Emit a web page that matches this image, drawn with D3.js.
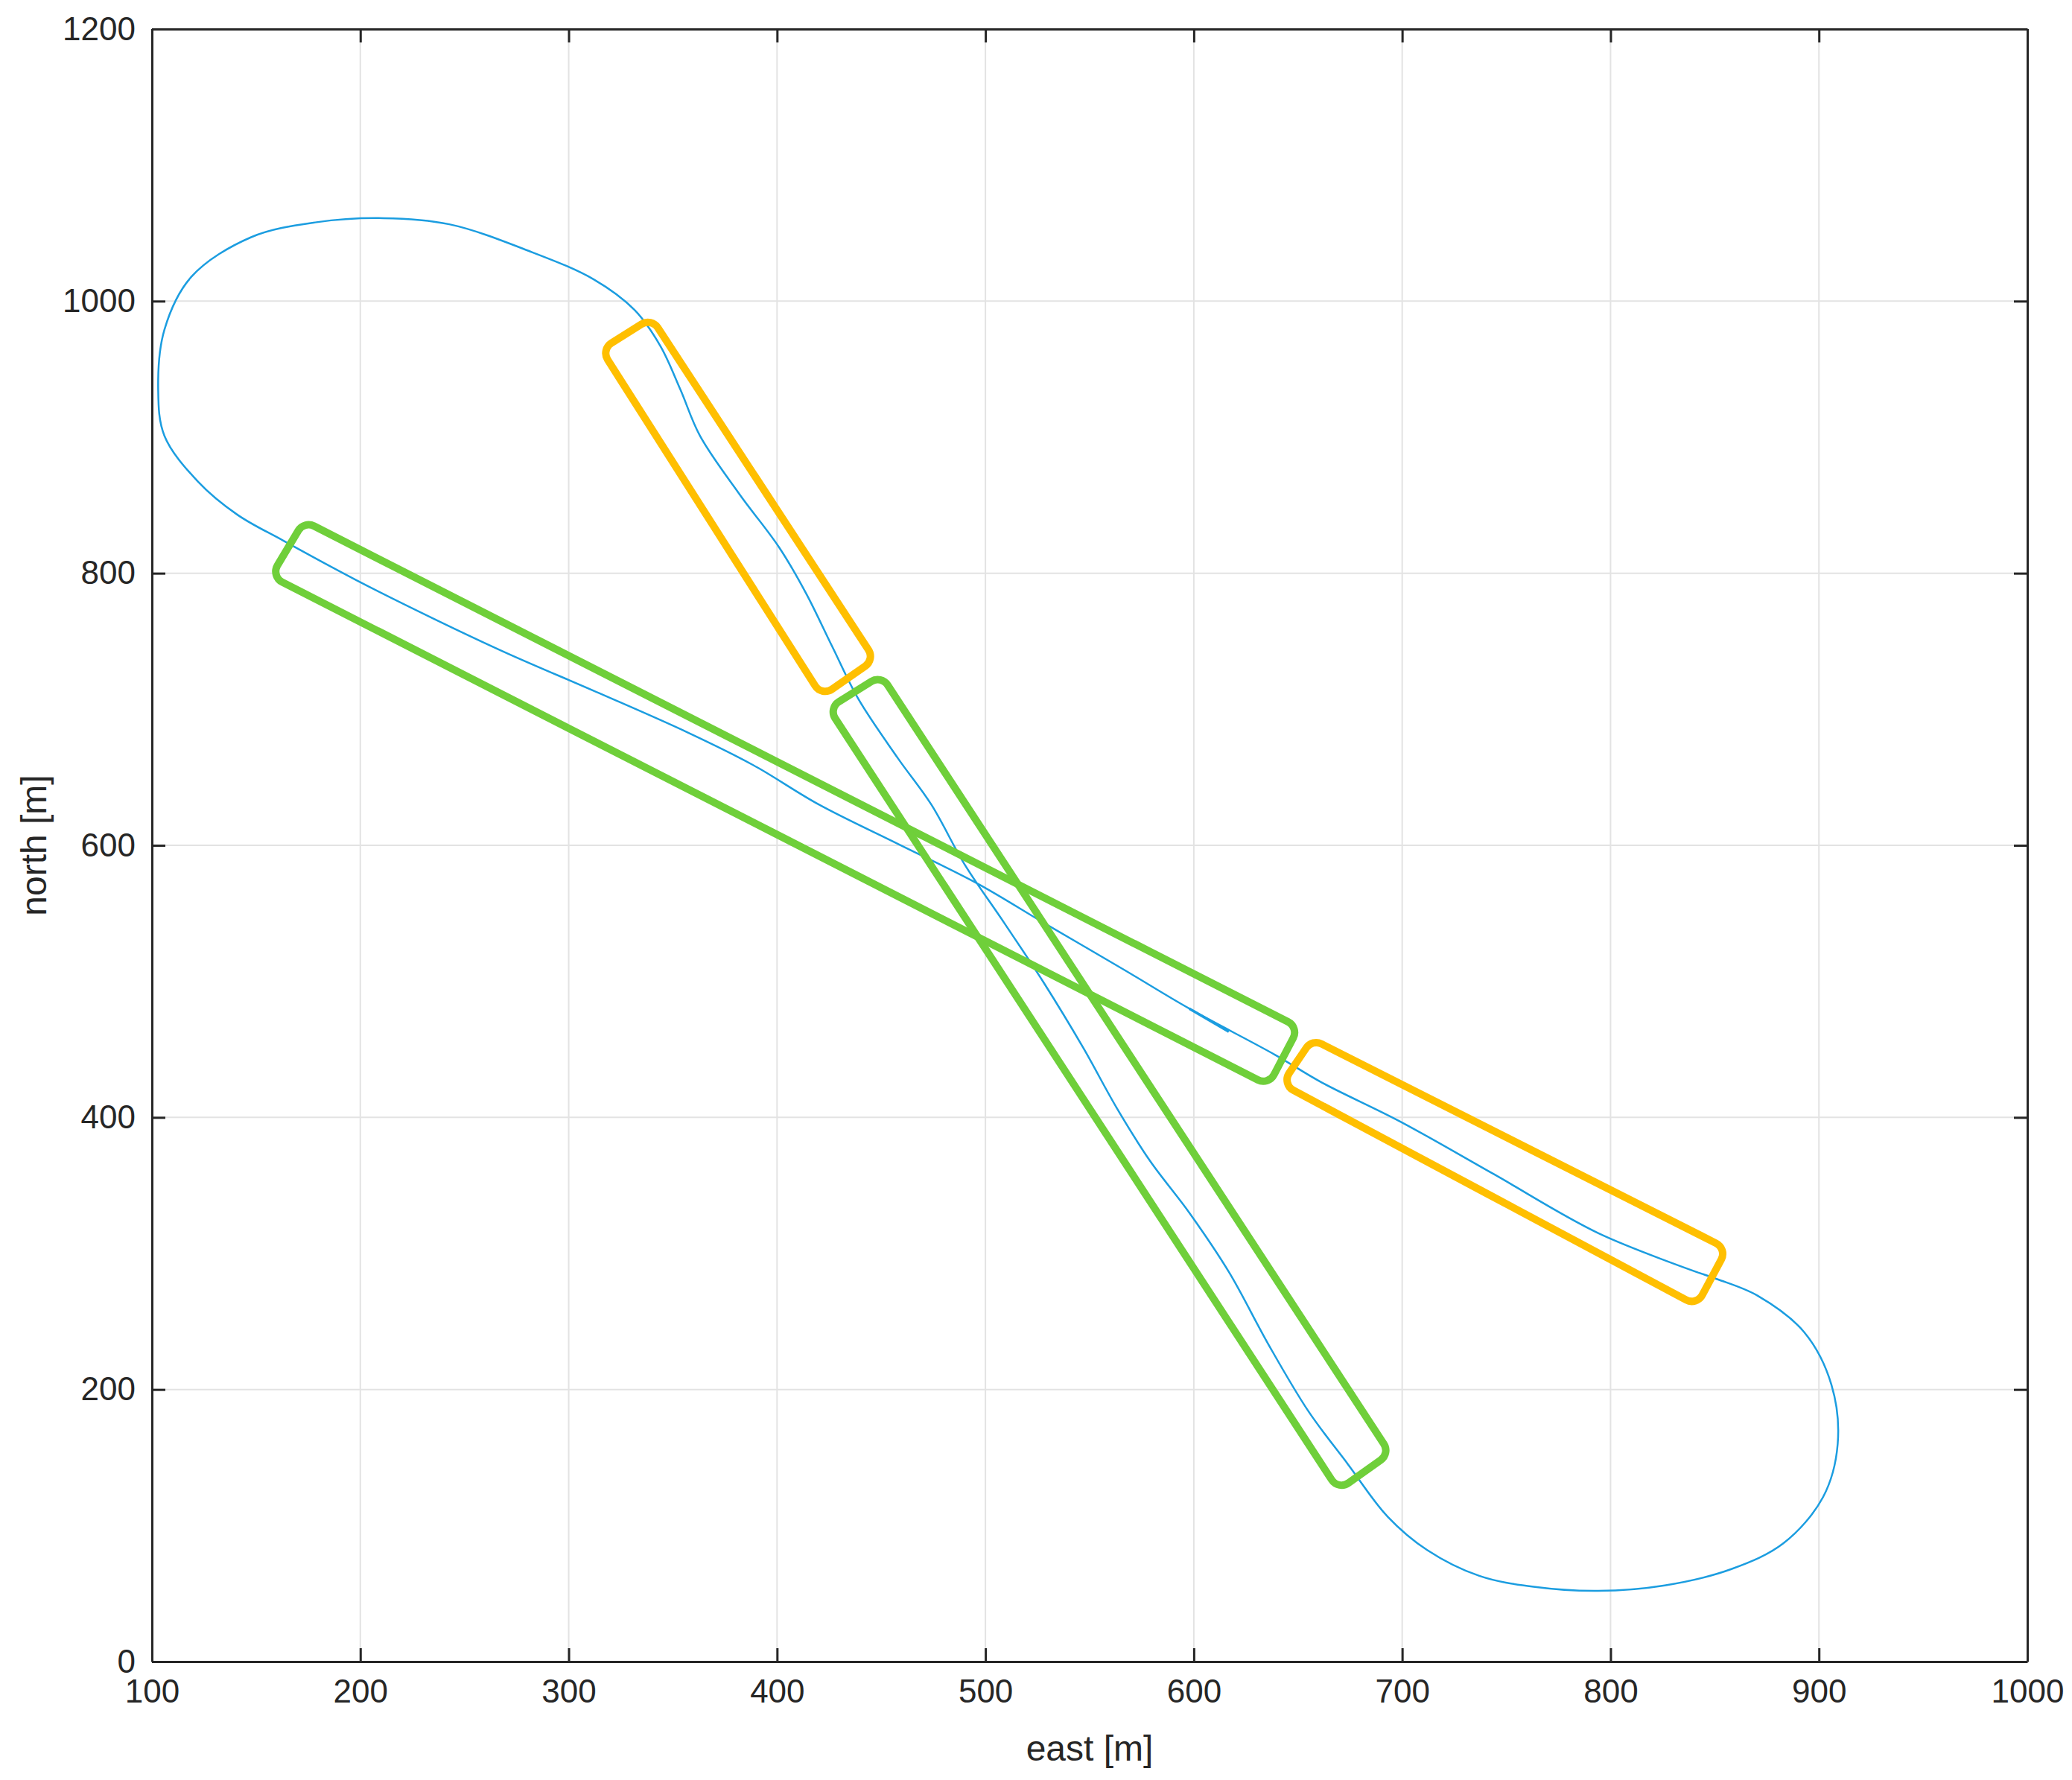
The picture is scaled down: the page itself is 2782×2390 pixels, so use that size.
<!DOCTYPE html>
<html>
<head>
<meta charset="utf-8">
<script src="https://cdn.jsdelivr.net/npm/d3@7"></script>
<style>
  body { margin: 0; background: #fff; }
  text { font-family: "Liberation Sans", Arial, sans-serif; fill: #262626; }
</style>
</head>
<body>
<div id="chart"></div>
<script>
// data (east, north) in metres
var trajectory = [
  [842,286],[794,315],[743.6,358.6],[699,397],[661,426],[639,446],[597.8,480],[566,509],
  [528,543],[496,572],[458,601],[420,630],[388.5,659],[357,683],[314.4,712],[270,741.5],
  [236,766],[198,795],[163,824],[141,843],[122,867.5],[106,901],[103,935],[106,979],
  [119,1018],[147.6,1047],[179,1058],[211,1061],[242.7,1056.5],[280.7,1037],[312,1016],
  [331.6,993.5],[344,967],[353.6,935],[363,901],[382,858],[401,819],[414,785],[426.5,746],
  [439,707.6],[458,664],[474,630],[490,586],[509,543],[528,499],[547,451],[563,407],
  [579,368],[598,329.6],[617,286],[636,232.6],[655,184],[674,145],[693,106.6],[712,82],
  [737,63],[763,55],[794,52],[826,56],[858,68],[883,87],[902,121],[909,160],[906,203.5],
  [893,242],[870.5,269],[851.4,281],[842,286]
];
var stub = [[597.8,480],[616.8,463]];

var orangeBoxes = [
  [[315.6,964.4],[339.7,987.7],[446.9,736.6],[421.5,709.5]],
  [[642.2,424.5],[656.8,457.5],[855.9,303.4],[841.3,261.7]]
];
var greenBoxes = [
  [[157.1,797.7],[173,838.4],[650.4,466.2],[635.8,423.6]],
  [[424.7,700.8],[450,725],[694.2,153],[669.4,126]]
];

var xTicks = [100,200,300,400,500,600,700,800,900,1000];
var yTicks = [0,200,400,600,800,1000,1200];

var svgWidth = 2782, svgHeight = 2390;
var margin = {top: 39, right: 60, bottom: 159, left: 204};
var width = svgWidth - margin.left - margin.right;
var height = svgHeight - margin.top - margin.bottom;

var svg = d3.select("#chart").append("svg")
  .attr("width", svgWidth).attr("height", svgHeight);
var g = svg.append("g").attr("transform", `translate(${margin.left},${margin.top})`);

var x = d3.scaleLinear().domain([100, 1000]).range([0, width]);
var y = d3.scaleLinear().domain([0, 1200]).range([height, 0]);

// grid
g.selectAll(".gx").data(xTicks).enter().append("line")
  .attr("x1", d => x(d)).attr("x2", d => x(d)).attr("y1", 0).attr("y2", height)
  .attr("stroke", "#e3e3e3").attr("stroke-width", 2);
g.selectAll(".gy").data(yTicks).enter().append("line")
  .attr("y1", d => y(d)).attr("y2", d => y(d)).attr("x1", 0).attr("x2", width)
  .attr("stroke", "#e3e3e3").attr("stroke-width", 2);

// axes (inner ticks, boxed)
function styleAxis(sel) {
  sel.selectAll("path").attr("stroke", "#262626").attr("stroke-width", 3);
  sel.selectAll("line").attr("stroke", "#262626").attr("stroke-width", 3);
  sel.selectAll("text").style("font-size", "44px").attr("fill", "#262626");
}
g.append("g").attr("transform", `translate(0,${height})`)
  .call(d3.axisBottom(x).tickValues(xTicks).tickFormat(d3.format("d")).tickSize(-18).tickPadding(24).tickSizeOuter(0))
  .call(styleAxis);
g.append("g")
  .call(d3.axisTop(x).tickValues(xTicks).tickSize(-18).tickFormat("").tickSizeOuter(0))
  .call(styleAxis);
g.append("g")
  .call(d3.axisLeft(y).tickValues(yTicks).tickFormat(d3.format("d")).tickSize(-18).tickPadding(22).tickSizeOuter(0))
  .call(styleAxis);
g.append("g").attr("transform", `translate(${width},0)`)
  .call(d3.axisRight(y).tickValues(yTicks).tickSize(-18).tickFormat("").tickSizeOuter(0))
  .call(styleAxis);

var pathLine = d3.line().x(d => x(d[0])).y(d => y(d[1])).curve(d3.curveCatmullRom);

// rounded polygon through the scaled corners
function roundedBox(pts) {
  var p = pts.map(d => [x(d[0]), y(d[1])]);
  var n = p.length, r = 16;
  var path = d3.path();
  var m0 = [(p[n - 1][0] + p[0][0]) / 2, (p[n - 1][1] + p[0][1]) / 2];
  path.moveTo(m0[0], m0[1]);
  for (var i = 0; i < n; i++) {
    var a = p[i], b = p[(i + 1) % n];
    path.arcTo(a[0], a[1], (a[0] + b[0]) / 2, (a[1] + b[1]) / 2, r);
  }
  path.closePath();
  return path.toString();
}

g.append("path").datum(trajectory).attr("d", pathLine)
  .attr("fill", "none").attr("stroke", "#1b9de0").attr("stroke-width", 2.5);
g.append("path").datum(stub).attr("d", pathLine)
  .attr("fill", "none").attr("stroke", "#1b9de0").attr("stroke-width", 3.5);

g.selectAll(".ob").data(orangeBoxes).enter().append("path")
  .attr("d", roundedBox).attr("fill", "none").attr("stroke", "#ffbf00")
  .attr("stroke-width", 10);
g.selectAll(".gb").data(greenBoxes).enter().append("path")
  .attr("d", roundedBox).attr("fill", "none").attr("stroke", "#6fcf3a")
  .attr("stroke-width", 10);

// labels
svg.append("text")
  .attr("x", margin.left + width / 2).attr("y", margin.top + height + 133)
  .attr("text-anchor", "middle").style("font-size", "48px").text("east [m]");
svg.append("text")
  .attr("transform", `translate(62,${margin.top + height / 2}) rotate(-90)`)
  .attr("text-anchor", "middle").style("font-size", "48px").text("north [m]");
</script>
</body>
</html>
